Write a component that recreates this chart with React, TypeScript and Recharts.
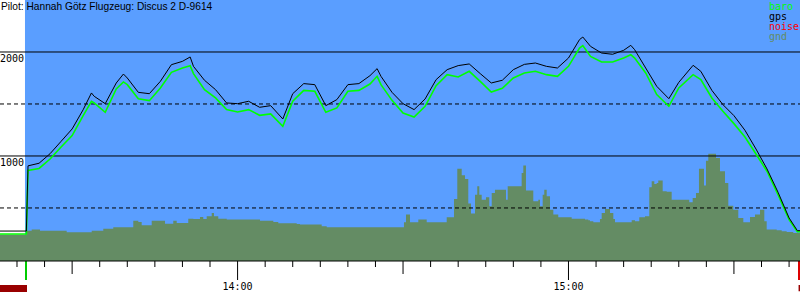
import React from 'react';
import {
  ComposedChart,
  Line,
  Area,
  XAxis,
  YAxis,
  ReferenceArea,
  ReferenceLine,
} from 'recharts';

const SKY = '#5a9eff';
const GND = '#648c64';
const BARO = '#00ff00';
const GPS = '#000000';
const NOISE = '#ff0000';

// all times are minutes after 13:00
const startMin = 16.92;
const endMin = 161.98;
const skyStartMin = 21.45;
const takeoffMin = 21.63;
const landingMin = 161.8;

const lineMin = [
  16.92, 21.7, 22, 24, 26, 28, 30, 32, 33.5, 34, 36, 38, 39.3, 40, 42, 44, 46, 48, 50, 51.4, 52,
  54, 56, 58, 60, 62, 64, 66, 68.2, 70, 72, 74, 76, 78, 80, 82, 84, 85.3, 86, 88, 90,
  92, 94, 96, 98, 100, 102, 104, 106, 108, 110, 112, 114, 116, 118, 120, 122, 122.6, 124,
  126, 128, 130, 131.3, 132, 134, 136, 138.2, 140, 142.6, 144, 146, 148, 150, 152, 154,
  156, 158, 160, 161.5, 161.98,
];
const baroAlt = [
  250, 250, 860, 880, 971, 1087, 1196, 1388, 1526, 1510, 1420, 1644, 1712, 1686, 1551, 1532, 1654, 1804, 1846, 1869, 1792,
  1638, 1558, 1446, 1423, 1446, 1391, 1404, 1285, 1526, 1631, 1622, 1420, 1462, 1622, 1631, 1692, 1766, 1686, 1535, 1413,
  1375, 1478, 1676, 1782, 1760, 1814, 1718, 1615, 1651, 1750, 1798, 1814, 1782, 1766, 1862, 2038, 2061, 1958,
  1904, 1904, 1942, 1974, 1942, 1798, 1590, 1478, 1654, 1782, 1734, 1558, 1430, 1311, 1183, 1019,
  853, 628, 388, 272, 272,
];
const gpsAlt = [
  278, 278, 905, 930, 1022, 1141, 1260, 1445, 1606, 1574, 1503, 1702, 1788, 1750, 1612, 1599, 1718, 1878, 1910, 1952, 1862,
  1728, 1638, 1510, 1503, 1526, 1468, 1484, 1356, 1599, 1696, 1686, 1484, 1542, 1686, 1696, 1772, 1840, 1766, 1612, 1503,
  1446, 1548, 1734, 1830, 1869, 1885, 1792, 1702, 1728, 1830, 1881, 1894, 1862, 1846, 1942, 2119, 2144, 2054,
  1990, 1978, 2016, 2064, 2022, 1846, 1670, 1551, 1708, 1872, 1814, 1631, 1494, 1388, 1247, 1067,
  875, 651, 404, 282, 282,
];

const gndMin = [
  16.92, 21.76, 22.67, 24.17, 29.01, 33.55, 35.65, 37.46, 41.09, 42.0, 42.61, 44.43, 46.84, 48.34, 48.96,
  51.06, 51.97, 53.18, 53.78, 54.4, 55.31, 55.72, 56.5, 58.03, 64.06, 66.48, 67.38, 70.72, 71.32, 75.25,
  76.16, 89.45, 90.17, 90.54, 91.26, 92.77, 94.29, 97.92, 99.24, 99.84, 100.64, 101.24, 101.83, 102.32,
  103.05, 103.46, 103.83, 104.26, 105.04, 105.64, 106.08, 106.67, 108.67, 108.98, 111.51, 111.81, 112.29,
  113.62, 114.53, 114.83, 115.32, 115.61, 116.05, 116.65, 117.25, 118.15, 120.58, 122.99, 123.59, 123.9,
  124.5, 125.71, 126.02, 126.62, 127.53, 128.13, 128.43, 131.46, 132.06, 132.84, 133.87, 134.65, 135.09,
  135.56, 135.99, 136.28, 137.08, 137.81, 138.71, 141.9, 142.52, 143.12, 143.66, 144.57, 144.93, 145.35,
  146.75, 147.47, 148.38, 148.98, 149.88, 150.79, 151.7, 152.91, 153.82, 154.73, 155.51, 155.94, 157.75,
  158.66, 159.56, 160.76, 161.98,
];
const gndAlt = [
  245, 282, 292, 282, 266, 282, 301, 314, 378, 365, 333, 378, 349, 378, 356,
  397, 394, 413, 394, 420, 452, 420, 397, 388, 378, 365, 353, 346, 340, 324,
  314, 314, 362, 436, 362, 388, 362, 410, 587, 878, 814, 779, 542, 446,
  628, 708, 628, 580, 602, 516, 644, 676, 580, 708, 837, 908, 667,
  564, 580, 516, 628, 676, 612, 484, 436, 410, 397, 388, 381, 372,
  362, 394, 452, 490, 452, 394, 362, 381, 372, 410, 420, 699, 756,
  731, 740, 763, 660, 657, 580, 554, 596, 644, 878, 715, 955, 1022,
  980, 853, 740, 522, 484, 404, 362, 413, 436, 484, 372, 292, 285,
  276, 269, 260, 260,
];

const tickMin = [
  20, 25, 30, 35, 40, 45, 50, 55, 60, 65, 70, 75, 80, 85, 90, 95, 100, 105, 110, 115, 120,
  125, 130, 135, 140, 145, 150, 155, 160,
];
const hourLabels: Record<number, string> = { 60: '14:00', 120: '15:00' };
const halfHourMin = [30, 90, 150];

const solidAlt = [1000, 2000];
const dashedAlt = [500, 1500];

const headerText = 'Pilot: Hannah Götz Flugzeug: Discus 2 D-9614';
const legendNames = ['baro', 'gps', 'noise', 'gnd'];
const legendColors = [BARO, GPS, NOISE, GND];

const lineData = lineMin.map((t, i) => ({ t, baro: baroAlt[i], gps: gpsAlt[i] }));
const gndData = gndMin.map((t, i) => ({ t, gnd: gndAlt[i] }));

const MONO = '"DejaVu Sans Mono", monospace';

function TimeTick(props: any) {
  const { x, y, payload } = props;
  const v = payload.value as number;
  const label = hourLabels[v];
  const len = label ? 19 : halfHourMin.includes(v) ? 13 : 6;
  return (
    <g>
      <line x1={x} x2={x} y1={y} y2={y + len} stroke="#000" strokeWidth={1} />
      {label && (
        <text x={x} y={y + 29} textAnchor="middle" fontFamily={MONO} fontSize={10} fill="#000">
          {label}
        </text>
      )}
    </g>
  );
}

function altLabel(text: string) {
  return (props: any) => (
    <text x={24} y={props.viewBox.y + 10} textAnchor="end" fontFamily={MONO} fontSize={10} fill="#000">
      {text}
    </text>
  );
}

export default function App() {
  return (
    <div style={{ position: 'absolute', left: 0, top: 0, width: 800, height: 300, background: '#fff' }}>
      <ComposedChart width={800} height={300} margin={{ top: 0, right: 0, bottom: 0, left: 0 }}>
        <XAxis
          dataKey="t"
          type="number"
          domain={[startMin, endMin]}
          ticks={tickMin}
          interval={0}
          allowDataOverflow
          tickSize={0}
          tickMargin={0}
          tickLine={false}
          tick={<TimeTick />}
          axisLine={{ stroke: '#000' }}
          height={39}
        />
        <YAxis type="number" domain={[-10, 2500]} allowDataOverflow hide />
        <ReferenceArea
          x1={skyStartMin}
          x2={endMin}
          y1={-10}
          y2={2500}
          fill={SKY}
          fillOpacity={1}
          stroke="none"
        />
        <Area
          data={gndData}
          dataKey="gnd"
          type="stepAfter"
          baseValue={-10}
          fill={GND}
          fillOpacity={1}
          stroke="none"
          dot={false}
          activeDot={false}
          isAnimationActive={false}
        />
        {dashedAlt.map((a) => (
          <ReferenceLine key={a} y={a} stroke="#000" strokeDasharray="4 3" />
        ))}
        {solidAlt.map((a) => (
          <ReferenceLine key={a} y={a} stroke="#000" label={altLabel(String(a))} />
        ))}
        <Line
          data={lineData}
          dataKey="baro"
          type="linear"
          stroke={BARO}
          strokeWidth={1.6}
          dot={false}
          activeDot={false}
          isAnimationActive={false}
        />
        <Line
          data={lineData}
          dataKey="gps"
          type="linear"
          stroke={GPS}
          strokeWidth={1}
          dot={false}
          activeDot={false}
          isAnimationActive={false}
        />
        <ReferenceLine
          segment={[{ x: takeoffMin, y: -10 }, { x: takeoffMin, y: -193 }]}
          stroke="#00cc00"
          strokeWidth={2}
          ifOverflow="visible"
        />
        <ReferenceLine
          segment={[{ x: landingMin, y: -10 }, { x: landingMin, y: -193 }]}
          stroke="#dd0000"
          strokeWidth={2}
          ifOverflow="visible"
        />
        <ReferenceArea
          x1={startMin}
          x2={21.82}
          y1={-308}
          y2={-241}
          fill="#990000"
          fillOpacity={1}
          stroke="none"
          ifOverflow="visible"
        />
        <ReferenceArea
          x1={161.72}
          x2={endMin}
          y1={-300}
          y2={-241}
          fill="#990000"
          fillOpacity={1}
          stroke="none"
          ifOverflow="visible"
        />
      </ComposedChart>
      <svg
        width={800}
        height={300}
        style={{ position: 'absolute', left: 0, top: 0, pointerEvents: 'none' }}
      >
        <text x={1} y={10} fontFamily='"Liberation Sans", Arial, sans-serif' fontSize={10.2} fill="#000">
          {headerText}
        </text>
        {legendNames.map((n, i) => (
          <text key={n} x={769} y={10 + i * 10} fontFamily={MONO} fontSize={10} fill={legendColors[i]}>
            {n}
          </text>
        ))}
      </svg>
    </div>
  );
}
